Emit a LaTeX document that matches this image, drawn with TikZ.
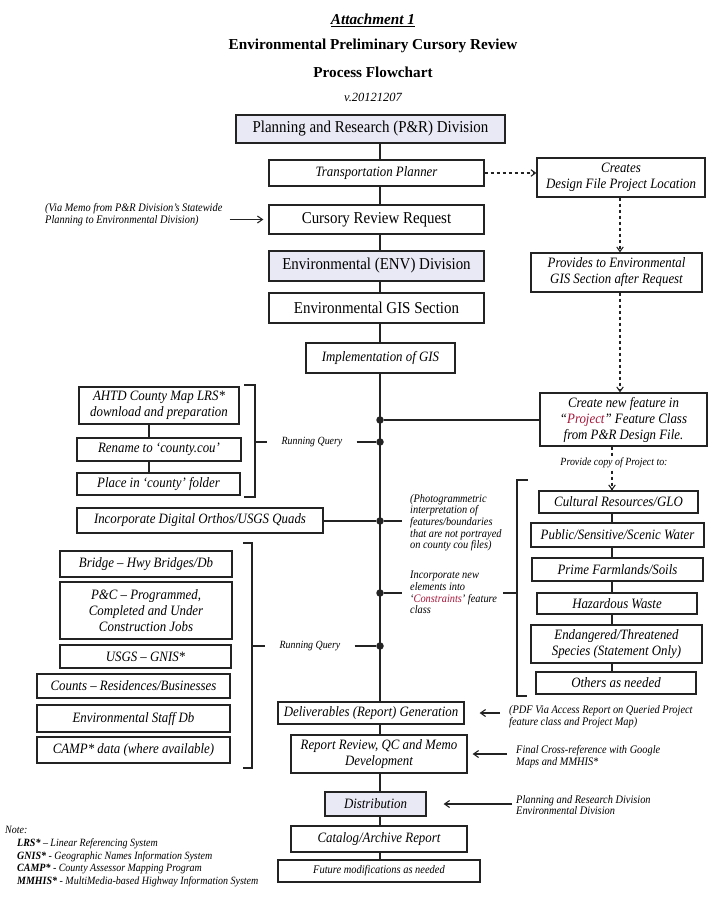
\documentclass[tikz,border=0pt]{standalone}
\usepackage{fontspec}
\setmainfont{Liberation Serif}[FakeStretch=0.9]
\newfontfamily\titlefont{Liberation Serif}
\usetikzlibrary{arrows.meta}
\definecolor{lav}{RGB}{233,233,245}
\definecolor{lc}{RGB}{35,35,35}
\definecolor{pred}{RGB}{165,20,55}
\begin{document}
\begin{tikzpicture}[x=1pt,y=-1pt,
  bx/.style={draw=lc, line width=1.3pt, inner sep=1pt, align=center, font=\fontsize{14.3}{16}\selectfont\itshape},
  big/.style={bx, font=\fontsize{16.6}{18}\selectfont},
  filled/.style={fill=lav},
  ln/.style={draw=lc, line width=1.1pt},
  dsh/.style={ln, dash pattern=on 3.5pt off 2.5pt, -{Straight Barb[length=4.5pt,width=6.5pt]}},
  arr/.style={ln, -{Straight Barb[length=5pt,width=7pt]}},
  ann/.style={font=\fontsize{11.5}{11.7}\selectfont\itshape, align=left, inner sep=0pt},
  dot/.style={circle, fill=lc, minimum size=7.5pt, inner sep=0pt},
  ttl/.style={font=\titlefont\fontsize{15.2}{17}\selectfont\bfseries, inner sep=0pt}
]
\useasboundingbox (0,0) rectangle (721,897);

% titles
\node[ttl] (t1) at (373,20) {\itshape\underline{Attachment 1}};
\node[ttl] (t2) at (373,46) {Environmental Preliminary Cursory Review};
\node[ttl] (t3) at (373,72) {Process Flowchart};
\node[inner sep=0pt, font=\titlefont\fontsize{12.5}{14}\selectfont\itshape] (t4) at (373,97) {v.20121207};

% spine coordinates
\coordinate (sp) at (380,0);
\coordinate (dx) at (620,0);
\coordinate (dx2) at (612,0);
\coordinate (lx) at (149,0);

% main column
\node[big, filled, minimum width=269pt, minimum height=28pt] (pr) at (370.5,129) {Planning and Research (P\&R) Division};
\node[bx, minimum width=215pt, minimum height=26pt] (tp) at (376.5,173) {Transportation Planner};
\node[big, minimum width=215pt, minimum height=29pt] (crr) at (376.5,219.5) {Cursory Review Request};
\node[big, filled, minimum width=215pt, minimum height=30pt] (env) at (376.5,266) {Environmental (ENV) Division};
\node[big, minimum width=215pt, minimum height=30pt] (gis) at (376.5,308) {Environmental GIS Section};
\node[bx, minimum width=149pt, minimum height=30pt] (impl) at (380.5,358) {Implementation of GIS};

\node[bx, minimum width=186pt, minimum height=22pt] (deliv) at (371,713) {Deliverables (Report) Generation};
\node[bx, minimum width=176pt, minimum height=38pt] (review) at (379,754) {Report Review, QC and Memo\\Development};
\node[bx, filled, minimum width=101pt, minimum height=24pt] (dist) at (375.5,804) {Distribution};
\node[bx, minimum width=176pt, minimum height=26pt] (catalog) at (379,839) {Catalog/Archive Report};
\node[bx, minimum width=202pt, minimum height=22pt, font=\fontsize{11.6}{13}\selectfont\itshape] (future) at (379,871) {Future modifications as needed};

% right column
\node[bx, minimum width=168pt, minimum height=39pt] (creates) at (621,177.5) {Creates\\Design File Project Location};
\node[bx, minimum width=171pt, minimum height=39pt] (provides) at (616.5,272.5) {Provides to Environmental\\GIS Section after Request};
\node[bx, minimum width=167pt, minimum height=53pt] (create) at (623.5,419.5) {Create new feature in\\“\textcolor{pred}{Project}” Feature Class\\from P\&R Design File.};
\node[bx, minimum width=159pt, minimum height=22pt] (cult) at (618.5,502) {Cultural Resources/GLO};
\node[bx, minimum width=173pt, minimum height=24pt] (pub) at (617.5,535) {Public/Sensitive/Scenic Water};
\node[bx, minimum width=171pt, minimum height=23pt] (prime) at (617.5,569.5) {Prime Farmlands/Soils};
\node[bx, minimum width=160pt, minimum height=21pt] (haz) at (617,603.5) {Hazardous Waste};
\node[bx, minimum width=171pt, minimum height=38pt] (endg) at (616.5,644) {Endangered/Threatened\\Species (Statement Only)};
\node[bx, minimum width=160pt, minimum height=22pt] (others) at (616,683) {Others as needed};

% left group 1
\node[bx, minimum width=160pt, minimum height=37pt] (ahtd) at (159,405.5) {AHTD County Map LRS*\\download and preparation};
\node[bx, minimum width=164pt, minimum height=23pt] (rename) at (159,449.5) {Rename to ‘county.cou’};
\node[bx, minimum width=163pt, minimum height=22pt] (place) at (158.5,484) {Place in ‘county’ folder};
\node[bx, minimum width=246pt, minimum height=25pt] (ortho) at (200,520.5) {Incorporate Digital Orthos/USGS Quads};

% left group 2
\node[bx, minimum width=172pt, minimum height=26pt] (bridge) at (146,564) {Bridge – Hwy Bridges/Db};
\node[bx, minimum width=172pt, minimum height=57pt] (pc) at (146,610.5) {P\&C – Programmed,\\Completed and Under\\Construction Jobs};
\node[bx, minimum width=171pt, minimum height=23pt] (usgs) at (145.5,656.5) {USGS – GNIS*};
\node[bx, minimum width=193pt, minimum height=24pt] (counts) at (133.5,686) {Counts – Residences/Businesses};
\node[bx, minimum width=193pt, minimum height=27pt] (staff) at (133.5,718.5) {Environmental Staff Db};
\node[bx, minimum width=193pt, minimum height=26pt] (camp) at (133.5,750) {CAMP* data (where available)};

% junction dots
\node[dot] (j1) at (380,420) {};
\node[dot] (j2) at (380,442) {};
\node[dot] (j3) at (380,521) {};
\node[dot] (j4) at (380,593) {};
\node[dot] (j5) at (380,646) {};

% annotations
\node[ann, anchor=west] (via) at (45,215) {(Via Memo from P\&R Division’s Statewide\\Planning to Environmental Division)};
\node[ann, font=\fontsize{11}{12}\selectfont\itshape] (rq1) at (312,442) {Running Query};
\node[ann, font=\fontsize{11}{12}\selectfont\itshape] (rq2) at (310,646) {Running Query};
\node[ann, anchor=north west] (photo) at (410,494) {(Photogrammetric\\interpretation of\\features/boundaries\\that are not portrayed\\on county cou files)};
\node[ann, anchor=north west] (constr) at (410,571) {Incorporate new\\elements into\\‘\textcolor{pred}{Constraints}’ feature\\class};
\node[ann, anchor=west] (pdf) at (509,717) {(PDF Via Access Report on Queried Project\\feature class and Project Map)};
\node[ann, anchor=west] (final) at (516,757) {Final Cross-reference with Google\\Maps and MMHIS*};
\node[ann, anchor=west] (plan) at (516,805) {Planning and Research Division\\Environmental Division};
\node[ann, anchor=north west, font=\fontsize{11.1}{12.8}\selectfont\itshape] (notes) at (5,826) {Note:\\
\hspace*{12pt}\textbf{LRS*} – Linear Referencing System\\
\hspace*{12pt}\textbf{GNIS*} - Geographic Names Information System\\
\hspace*{12pt}\textbf{CAMP*} - County Assessor Mapping Program\\
\hspace*{12pt}\textbf{MMHIS*} - MultiMedia-based Highway Information System};

% spine
\draw[ln] (pr.south -| sp) -- (tp.north -| sp);
\draw[ln] (tp.south -| sp) -- (crr.north -| sp);
\draw[ln] (crr.south -| sp) -- (env.north -| sp);
\draw[ln] (env.south -| sp) -- (gis.north -| sp);
\draw[ln] (gis.south -| sp) -- (impl.north -| sp);
\draw[ln] (impl.south -| sp) -- (deliv.north -| sp);
\draw[ln] (deliv.south -| sp) -- (review.north -| sp);
\draw[ln] (review.south -| sp) -- (dist.north -| sp);
\draw[ln] (dist.south -| sp) -- (catalog.north -| sp);
\draw[ln] (catalog.south -| sp) -- (future.north -| sp);

% branches
\draw[ln] (j1) -- (j1 -| create.west);
\draw[ln] ([xshift=14pt]rq1.east) -- (j2);
\draw[ln] (ortho.east |- j3) -- (j3);
\draw[ln] (j3) -- ([xshift=-8pt]photo.west |- j3);
\draw[ln] (j4) -- ([xshift=-8pt]constr.west |- j4);
\draw[ln] ([xshift=14pt]rq2.east) -- (j5);

% left stack connectors
\draw[ln] (ahtd.south -| lx) -- (rename.north -| lx);
\draw[ln] (rename.south -| lx) -- (place.north -| lx);

% right stack connectors
\draw[ln] (cult.south -| dx2) -- (pub.north -| dx2);
\draw[ln] (pub.south -| dx2) -- (prime.north -| dx2);
\draw[ln] (prime.south -| dx2) -- (haz.north -| dx2);
\draw[ln] (haz.south -| dx2) -- (endg.north -| dx2);
\draw[ln] (endg.south -| dx2) -- (others.north -| dx2);

% brackets
\draw[ln] (244,385) -- (255,385) -- (255,497) -- (244,497);
\draw[ln] (255,442) -- (267,442);
\draw[ln] (243,543) -- (252,543) -- (252,768) -- (243,768);
\draw[ln] (252,646) -- (265,646);
\draw[ln] (528,480) -- (517,480) -- (517,696) -- (527,696);
\draw[ln] (517,593) -- (503,593);

% dashed arrows
\draw[dsh] (tp.east) -- (tp.east -| creates.west);
\draw[dsh] (creates.south -| dx) -- (provides.north -| dx);
\draw[dsh] (provides.south -| dx) -- (create.north -| dx);
\draw[dsh] (create.south -| dx2) -- (cult.north -| dx2);
\node[ann, fill=white, inner sep=2pt, font=\fontsize{11}{12}\selectfont\itshape] (copy) at (614,463) {Provide copy of Project to:};

% solid arrows
\draw[arr, shorten >=5pt] ([xshift=7pt]via.east |- crr.west) -- (crr.west);
\draw[arr, shorten >=15pt] ([xshift=-9pt]pdf.west |- deliv.east) -- (deliv.east);
\draw[arr, shorten >=5pt] ([xshift=-9pt]final.west |- review.east) -- (review.east);
\draw[arr, shorten >=17pt] ([xshift=-4pt]plan.west |- dist.east) -- (dist.east);
\end{tikzpicture}
\end{document}
